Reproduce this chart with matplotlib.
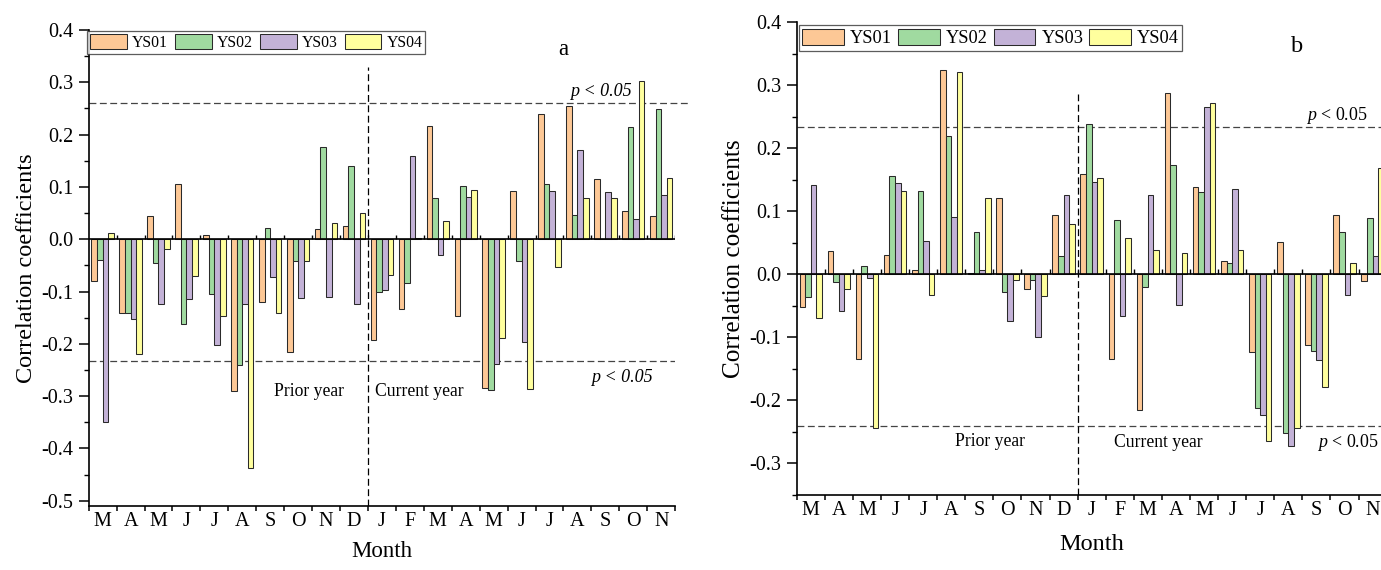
import matplotlib
matplotlib.use("Agg")
import matplotlib.pyplot as plt
from matplotlib import ticker
import numpy as np

plt.rcParams['font.family'] = ['Liberation Serif', 'DejaVu Serif']
plt.rcParams['axes.unicode_minus'] = False
plt.rcParams['mathtext.fontset'] = 'custom'
plt.rcParams['mathtext.it'] = 'Liberation Serif:italic'
plt.rcParams['mathtext.rm'] = 'Liberation Serif'

MONTHS = ["M", "A", "M", "J", "J", "A", "S", "O", "N", "D",
          "J", "F", "M", "A", "M", "J", "J", "A", "S", "O", "N"]
SITES = ["YS01", "YS02", "YS03", "YS04"]
COLORS = ["#FDC896", "#A0DAA0", "#C3B2D7", "#FFFF9E"]

# panel a
a_ys01 = [-0.080, -0.141, 0.045, 0.106, 0.009, -0.291, -0.120, -0.216, 0.020, 0.025,
          -0.193, -0.133, 0.216, -0.146, -0.284, 0.093, 0.239, 0.255, 0.116, 0.054, 0.044]
a_ys02 = [-0.039, -0.141, -0.046, -0.162, -0.105, -0.240, 0.022, -0.042, 0.176, 0.140,
          -0.100, -0.084, 0.079, 0.101, -0.289, -0.041, 0.106, 0.047, 0.000, 0.215, 0.249]
a_ys03 = [-0.350, -0.152, -0.124, -0.115, -0.203, -0.124, -0.073, -0.112, -0.111, -0.124,
          -0.098, 0.159, -0.031, 0.080, -0.238, -0.197, 0.093, 0.170, 0.091, 0.039, 0.085]
a_ys04 = [0.011, -0.219, -0.018, -0.071, -0.146, -0.437, -0.141, -0.041, 0.031, 0.050,
          -0.068, 0.003, 0.034, 0.095, -0.188, -0.287, -0.053, 0.078, 0.078, 0.302, 0.117]

# panel b
b_ys01 = [-0.053, 0.036, -0.135, 0.031, 0.006, 0.324, 0.002, 0.120, -0.023, 0.093,
          0.158, -0.135, -0.215, 0.288, 0.138, 0.020, -0.123, 0.051, -0.113, 0.094, -0.011]
b_ys02 = [-0.037, -0.013, 0.013, 0.155, 0.132, 0.219, 0.066, -0.028, -0.009, 0.028,
          0.238, 0.086, -0.021, 0.173, 0.131, 0.018, -0.213, -0.253, -0.122, 0.067, 0.089]
b_ys03 = [0.142, -0.059, -0.006, 0.145, 0.053, 0.090, 0.007, -0.075, -0.100, 0.126,
          0.146, -0.066, 0.125, -0.049, 0.265, 0.135, -0.223, -0.273, -0.136, -0.033, 0.028]
b_ys04 = [-0.069, -0.024, -0.245, 0.132, -0.034, 0.321, 0.120, -0.009, -0.035, 0.080,
          0.152, 0.058, 0.038, 0.034, 0.272, 0.038, -0.265, -0.245, -0.180, 0.017, 0.169]

SIG_A = (0.260, -0.233)
SIG_B = (0.2335, -0.241)

DASH = (0, (5.5, 2.8))


def draw_panel(ax, series, ylim, sig, letter, st, tp):
    x = np.arange(len(MONTHS))
    w = 0.2
    for k, (vals, col, lab) in enumerate(zip(series, COLORS, SITES)):
        ax.bar(x + 0.1 + w * (k + 0.5), vals, width=w, color=col, edgecolor="#2a2a2a",
               linewidth=0.75, label=lab, zorder=2)
    ax.axhline(0, color="black", lw=1.2, zorder=3)
    # short ticks sitting on the zero line
    ax.vlines(np.arange(1, len(MONTHS) + 1), 0, tp["zt"], color="black", lw=1.0, zorder=3)

    ax.set_xlim(0, len(MONTHS))
    ax.set_ylim(*ylim)
    ax.set_xticks(np.arange(len(MONTHS) + 1))
    ax.set_xticklabels([])
    ax.set_xticks(x + 0.5, minor=True)
    ax.set_xticklabels(MONTHS, minor=True, fontsize=st["tick"])
    ax.tick_params(axis="x", which="minor", length=0, pad=st["xpad"])
    ax.tick_params(axis="x", which="major", length=3.6, width=1.1)
    ax.set_yticks(np.arange(0.4, ylim[0] - 0.001, -0.1))
    ax.yaxis.set_major_formatter(ticker.FormatStrFormatter("%.1f"))
    ax.yaxis.set_minor_locator(ticker.MultipleLocator(0.05))
    ax.tick_params(axis="y", which="major", length=7, width=1.1, pad=4, labelsize=st["tick"])
    ax.tick_params(axis="y", which="minor", length=3.6, width=1.0)
    for s in ["top", "right"]:
        ax.spines[s].set_visible(False)
    for s in ["left", "bottom"]:
        ax.spines[s].set_linewidth(1.2)

    ax.axhline(sig[0], xmax=tp["up_xmax"], color="#444444", lw=0.9, ls=DASH, clip_on=False, zorder=1)
    ax.axhline(sig[1], color="#444444", lw=0.9, ls=DASH, zorder=1)
    ax.plot([10, 10], [ylim[0], tp["vtop"]], color="black", lw=0.9, ls=DASH, zorder=1)

    ax.set_ylabel("Correlation coefficients", fontsize=st["ylab"], labelpad=st["ylpad"])
    ax.set_xlabel("Month", fontsize=st["xlab"], labelpad=st["xlpad"])

    ax.text(*tp["prior"], "Prior year", fontsize=st["small"], ha="center", va="center")
    ax.text(*tp["current"], "Current year", fontsize=st["small"], ha="center", va="center")
    for pos in (tp["p_up"], tp["p_lo"]):
        if st["p_italic"]:
            ax.text(*pos, "p < 0.05", fontsize=st["p"], style="italic", ha="center", va="center")
        else:
            ax.text(*pos, "$\\it{p}$ < 0.05", fontsize=st["p"], ha="center", va="center")
    ax.text(*tp["letter"], letter, fontsize=st["xlab"], ha="center", va="center")

    leg = ax.legend(loc="upper left", ncol=4, fontsize=st["leg"], frameon=True, fancybox=False,
                    edgecolor="#333333", borderaxespad=0.0, bbox_to_anchor=tp["leg_anchor"],
                    handlelength=st["hl"], handleheight=st["hh"], handletextpad=0.32,
                    columnspacing=st["cs"], borderpad=0.18)
    leg.get_frame().set_linewidth(0.9)


fig = plt.figure(figsize=(13.81, 5.70), dpi=100)
ax_a = fig.add_axes([0.0642, 0.1123, 0.4247, 0.8351])
ax_b = fig.add_axes([0.5769, 0.1323, 0.4272, 0.8291])

draw_panel(ax_a, [a_ys01, a_ys02, a_ys03, a_ys04], (-0.510, 0.4), SIG_A, "a",
           {"tick": 14.5, "ylab": 17.5, "xlab": 16.5, "small": 12.7, "p": 13, "leg": 11.3,
            "hl": 2.34, "hh": 1.1, "cs": 0.45, "xpad": 4.5, "xlpad": 7, "ylpad": 3,
            "p_italic": True},
           {"zt": 0.009, "up_xmax": 1.025, "vtop": 0.329,
            "prior": (7.9, -0.292), "current": (11.85, -0.292),
            "p_up": (18.33, 0.282), "p_lo": (19.08, -0.265), "letter": (17.0, 0.363),
            "leg_anchor": (-0.002, 0.997)})
draw_panel(ax_b, [b_ys01, b_ys02, b_ys03, b_ys04], (-0.35, 0.4), SIG_B, "b",
           {"tick": 14.5, "ylab": 18.2, "xlab": 17.5, "small": 12.7, "p": 12.9, "leg": 13.2,
            "hl": 2.28, "hh": 1.04, "cs": 0.33, "xpad": 4.5, "xlpad": 10, "ylpad": 3.5,
            "p_italic": False},
           {"zt": 0.008, "up_xmax": 1.0, "vtop": 0.286,
            "prior": (6.88, -0.265), "current": (12.86, -0.267),
            "p_up": (19.23, 0.252), "p_lo": (19.62, -0.268), "letter": (17.81, 0.361),
            "leg_anchor": (0.004, 0.993)})

fig.savefig("out.png", dpi=100)
